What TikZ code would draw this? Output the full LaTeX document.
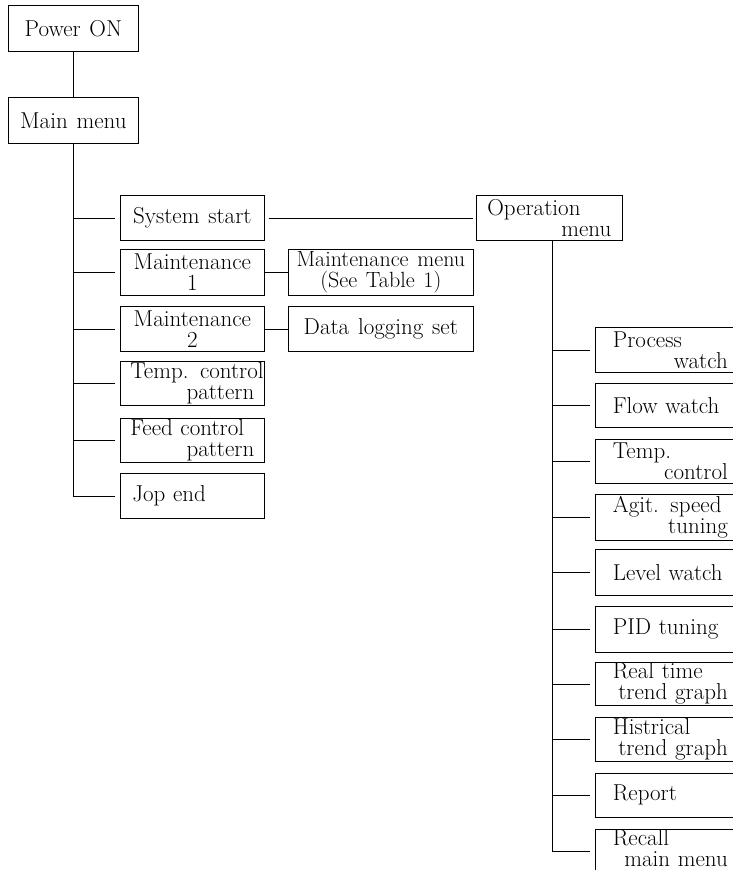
\documentclass[tikz,border=0pt]{standalone}
\newcommand\boxfont{\fontsize{23}{21}\selectfont\spaceskip=0.38em plus 0.1em minus 0.05em\hyphenpenalty=10000\exhyphenpenalty=10000\relax}
\begin{document}
\begin{tikzpicture}[x=1pt,y=-1pt,
  box/.style={draw, line width=0.7pt, anchor=north west, inner sep=0pt, align=center, font=\boxfont},
  lbox/.style={box, minimum width=144pt, minimum height=45pt},
  lboxl/.style={lbox, text width=124pt, align=left},
  rbox/.style={box, minimum width=150pt, minimum height=45pt, text width=115pt, align=left},
  conn/.style={line width=0.7pt},
  stub/.style={conn, shorten >=5pt}
]
\useasboundingbox (0,0) rectangle (733,870);

% top
\node[box, minimum width=130pt, minimum height=46pt] (pon) at (8,5) {Power ON};
\node[box, minimum width=130pt, minimum height=46pt] (main) at (8,97) {Main menu};
\draw[conn] (pon.south) -- (main.north);

% left column
\node[lbox] (sys) at (120,195) {System start};
\node[lbox, minimum height=46pt] (m1) at (120,249) {Maintenance\\1};
\node[lbox] (m2) at (120,306) {Maintenance\\2};
\node[lboxl, minimum height=44pt] (tcp) at (120,361) {\mbox{Temp. control}\\\hspace*{\fill}pattern};
\node[lboxl, minimum height=44pt] (fcp) at (120,418) {\mbox{Feed control}\\\hspace*{\fill}pattern};
\node[lboxl] (jop) at (120,473) {\hspace*{2pt}Jop end};

\draw[stub] (main.south) |- (jop.west);
\foreach \n in {sys,m1,m2,tcp,fcp}{
  \draw[stub] (main.south |- \n.west) -- (\n.west);
}

% middle column
\node[box, minimum width=185pt, minimum height=46pt, font=\boxfont\fontsize{22}{21}\selectfont] (mm) at (288,249) {Maintenance menu\\(See Table 1)};
\node[box, minimum width=185pt, minimum height=45pt] (dls) at (288,306) {Data logging set};
\draw[conn] (m1.east) -- (mm.west);
\draw[conn] (m2.east) -- (dls.west);

% operation menu
\node[box, minimum width=146pt, minimum height=45pt, text width=124pt, align=left] (op) at (476,195) {Operation\\\hspace*{\fill}menu};
\draw[conn, shorten <=4pt, shorten >=3pt] (sys.east) -- (op.west);

% right column
\node[rbox] (pw)  at (595,327) {Process\\\hspace*{\fill}watch};
\node[rbox, minimum height=44pt] (fw)  at (595,383) {Flow watch};
\node[rbox, minimum height=44pt] (tc)  at (595,439) {Temp.\\\hspace*{\fill}control};
\node[rbox, minimum height=46pt] (ag)  at (595,494) {Agit. speed\\\hspace*{\fill}tuning};
\node[rbox, minimum height=46pt] (lw)  at (595,549) {Level watch};
\node[rbox, minimum height=46pt] (pid) at (595,606) {PID tuning};
\node[rbox, minimum height=43pt] (rt)  at (595,662) {Real time\\\hspace*{\fill}trend graph};
\node[rbox, minimum height=44pt] (hi)  at (595,717) {Histrical\\\hspace*{\fill}trend graph};
\node[rbox, minimum height=44pt] (rep) at (595,773) {Report};
\node[rbox, draw=none, minimum height=38pt] (rec) at (595,829) {Recall\\\hspace*{\fill}main menu};
\draw[conn] ([yshift=-12pt]rec.south west) -- (rec.north west) -- (rec.north east);

\coordinate (optop) at ([xshift=3pt]op.south);
\draw[stub] (optop) |- ([yshift=-3pt]rec.west);
\foreach \n in {pw,fw,tc,ag,lw,pid,rt,hi,rep}{
  \draw[stub] (optop |- \n.west) -- (\n.west);
}
\end{tikzpicture}
\end{document}
